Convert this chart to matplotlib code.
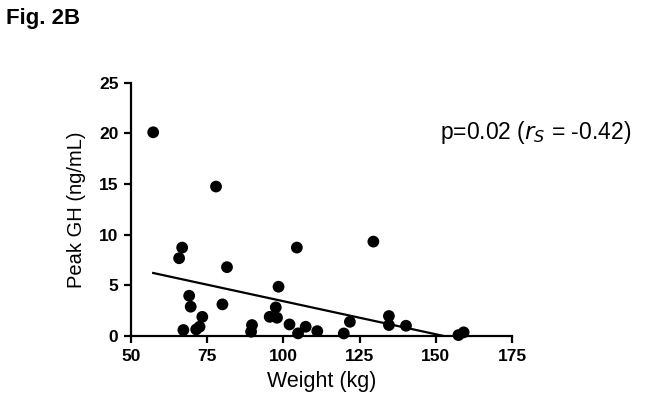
import matplotlib
matplotlib.use("Agg")
import matplotlib.pyplot as plt
import numpy as np

plt.rcParams["font.family"] = ["Liberation Sans", "DejaVu Sans"]

# values
weight_kg = [57.3, 77.9, 66.8, 65.8, 81.5, 104.4, 98.4, 69.1, 69.6, 80.0,
             73.4, 67.2, 71.4, 72.5, 89.7, 89.4, 95.5, 97.5, 97.9, 102.0,
             104.8, 107.3, 111.1, 129.5, 119.8, 121.8, 134.6, 134.6, 140.2,
             157.4, 159.1]
peak_gh = [20.1, 14.75, 8.73, 7.68, 6.8, 8.73, 4.87, 3.98, 2.9, 3.13,
           1.9, 0.6, 0.66, 0.92, 1.09, 0.43, 1.9, 2.83, 1.81, 1.15,
           0.27, 0.92, 0.49, 9.32, 0.26, 1.41, 1.98, 1.09, 1.02,
           0.1, 0.37]
fit_slope = -0.0652
fit_intercept = 9.96
x_ticks = [50, 75, 100, 125, 150, 175]
y_ticks = [0, 5, 10, 15, 20, 25]

fig = plt.figure(figsize=(6.45, 4.03), dpi=100)
ax = fig.add_axes([0.203, 0.166, 0.591, 0.629])

ax.scatter(weight_kg, peak_gh, s=72, color="black", edgecolor="none",
           clip_on=False, zorder=3)
xs = np.array([min(weight_kg), max(weight_kg)])
ax.plot(xs, fit_intercept + fit_slope * xs, color="black", lw=1.6, zorder=2)

ax.set_xlim(50, 175)
ax.set_ylim(0, 25)
ax.set_xticks(x_ticks)
ax.set_yticks(y_ticks)
for s in ("top", "right"):
    ax.spines[s].set_visible(False)
for s in ("left", "bottom"):
    ax.spines[s].set_linewidth(1.6)
ax.tick_params(width=1.6, length=5, labelsize=12.5, pad=4)
for lab in ax.get_xticklabels() + ax.get_yticklabels():
    lab.set_fontweight("bold")

ax.set_xlabel("Weight (kg)", fontsize=15.5, labelpad=5)
ax.set_ylabel("Peak GH (ng/mL)", fontsize=14.5, labelpad=9)

fig.text(0.682, 0.67, r"p=0.02 ($r_S$ = -0.42)", fontsize=16.5,
         ha="left", va="center", math_fontfamily="dejavusans")
fig.text(0.01, 0.955, "Fig. 2B", fontsize=16, fontweight="bold",
         ha="left", va="center")

fig.savefig("out.png", dpi=100)
